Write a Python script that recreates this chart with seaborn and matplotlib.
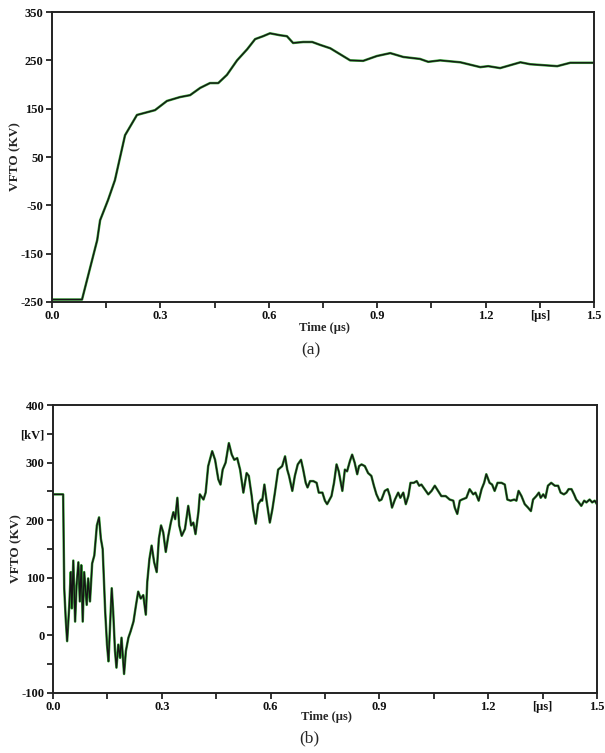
import matplotlib
matplotlib.use("Agg")
import matplotlib.pyplot as plt
import seaborn as sns
import pandas as pd

# ---- panel (a): smooth VFTO waveform (time in us, voltage in kV)
t_a = [0.0, 0.083, 0.125, 0.133, 0.155, 0.174, 0.202, 0.235, 0.285, 0.318,
       0.354, 0.382, 0.41, 0.437, 0.46, 0.484, 0.512, 0.54, 0.562, 0.584,
       0.603, 0.631, 0.65, 0.667, 0.695, 0.72, 0.742, 0.77, 0.825, 0.861,
       0.899, 0.936, 0.972, 1.018, 1.041, 1.074, 1.13, 1.185, 1.207, 1.24,
       1.296, 1.323, 1.398, 1.434, 1.5]
v_a = [-245, -245, -122, -81, -39, 2, 95, 137, 147, 166,
       174, 178, 193, 203, 203, 220, 250, 273, 294, 300,
       306, 302, 300, 286, 288, 288, 282, 275, 250, 249,
       259, 265, 257, 253, 247, 250, 246, 236, 238, 234,
       246, 242, 238, 245, 245]

# ---- panel (b): oscillating VFTO waveform
t_b = [0.0, 0.028, 0.031, 0.035, 0.039, 0.045, 0.049, 0.052, 0.056, 0.061,
       0.065, 0.07, 0.074, 0.078, 0.082, 0.086, 0.093, 0.097, 0.102, 0.108,
       0.114, 0.121, 0.127, 0.132, 0.137, 0.144, 0.149, 0.153, 0.157, 0.162,
       0.166, 0.171, 0.175, 0.18, 0.185, 0.189, 0.196, 0.201, 0.208, 0.214,
       0.222, 0.229, 0.235, 0.242, 0.249, 0.256, 0.26, 0.266, 0.272, 0.279,
       0.286, 0.292, 0.298, 0.304, 0.311, 0.318, 0.325, 0.332, 0.337, 0.343,
       0.348, 0.355, 0.364, 0.373, 0.381, 0.387, 0.393, 0.401, 0.405, 0.415,
       0.421, 0.428, 0.439, 0.447, 0.456, 0.462, 0.468, 0.476, 0.485, 0.493,
       0.5, 0.508, 0.516, 0.525, 0.534, 0.54, 0.548, 0.552, 0.559, 0.566,
       0.574, 0.577, 0.583, 0.589, 0.598, 0.605, 0.612, 0.621, 0.632, 0.64,
       0.646, 0.651, 0.66, 0.667, 0.675, 0.684, 0.69, 0.697, 0.702, 0.709,
       0.718, 0.727, 0.733, 0.743, 0.75, 0.756, 0.768, 0.775, 0.782, 0.788,
       0.793, 0.798, 0.805, 0.811, 0.819, 0.825, 0.832, 0.839, 0.844, 0.851,
       0.86, 0.869, 0.878, 0.885, 0.892, 0.9, 0.906, 0.915, 0.923, 0.929,
       0.935, 0.943, 0.952, 0.958, 0.966, 0.973, 0.98, 0.986, 0.995, 1.003,
       1.01, 1.016, 1.025, 1.035, 1.044, 1.053, 1.062, 1.071, 1.083, 1.094,
       1.104, 1.108, 1.115, 1.122, 1.128, 1.14, 1.149, 1.159, 1.165, 1.174,
       1.182, 1.189, 1.195, 1.204, 1.211, 1.218, 1.226, 1.237, 1.246, 1.253,
       1.262, 1.272, 1.278, 1.284, 1.292, 1.301, 1.31, 1.318, 1.324, 1.333,
       1.34, 1.345, 1.352, 1.358, 1.365, 1.374, 1.384, 1.393, 1.4, 1.409,
       1.416, 1.422, 1.43, 1.437, 1.443, 1.45, 1.457, 1.465, 1.471, 1.48,
       1.487, 1.494, 1.5]
v_b = [245, 245, 82, 30, -10, 53, 110, 47, 130, 24,
       87, 127, 59, 122, 24, 110, 53, 99, 59, 125,
       139, 191, 205, 168, 150, 41, -16, -45, 13, 82,
       41, -27, -56, -16, -39, -4, -67, -27, -4, 7,
       24, 53, 76, 64, 70, 36, 93, 133, 156, 127,
       110, 168, 191, 179, 145, 173, 196, 214, 202, 239,
       191, 173, 185, 225, 191, 196, 176, 214, 245, 236,
       248, 294, 320, 305, 271, 262, 288, 300, 334, 314,
       305, 308, 288, 248, 282, 277, 242, 219, 194, 228,
       236, 234, 262, 234, 196, 219, 248, 288, 294, 311,
       288, 277, 251, 277, 297, 305, 288, 265, 257, 268,
       268, 265, 248, 248, 234, 228, 242, 265, 297, 285,
       268, 251, 288, 285, 303, 314, 300, 280, 294, 297,
       294, 282, 277, 260, 245, 234, 236, 251, 254, 242,
       222, 236, 248, 239, 248, 228, 242, 265, 265, 268,
       260, 262, 254, 245, 251, 260, 251, 242, 242, 236,
       234, 222, 211, 234, 236, 239, 254, 245, 248, 234,
       254, 265, 280, 265, 262, 251, 265, 265, 262, 236,
       234, 236, 234, 251, 242, 228, 222, 216, 236, 242,
       248, 239, 245, 239, 260, 265, 260, 260, 248, 245,
       248, 254, 254, 245, 236, 231, 225, 234, 231, 236,
       231, 234, 228]

xticks = [0.0, 0.3, 0.6, 0.9, 1.2, 1.35, 1.5]
xticklabels = ["0.0", "0.3", "0.6", "0.9", "1.2", "[\u00b5s]", "1.5"]
xminor = [0.15, 0.45, 0.75, 1.05]

yticks_a = [-250, -150, -50, 50, 150, 250, 350]
yticks_b = [-100, -50, 0, 50, 100, 150, 200, 250, 300, 350, 400]
yticklabels_b = ["-100", "", "0", "", "100", "", "200", "", "300", "[kV]", "400"]

sns.set_style("ticks")
plt.rcParams['font.family'] = ['Liberation Serif', 'DejaVu Serif']

fig = plt.figure(figsize=(6.05, 7.53), dpi=100)
ax_a = fig.add_axes([0.086, 0.599, 0.896, 0.385])
ax_b = fig.add_axes([0.0876, 0.0797, 0.899, 0.3823])

df_a = pd.DataFrame({"t": t_a, "v": v_a})
df_b = pd.DataFrame({"t": t_b, "v": v_b})


def draw(ax, df):
    # green halo under a black trace, like the scope export
    sns.lineplot(data=df, x="t", y="v", ax=ax, color="#3aa53a", lw=1.8,
                 estimator=None, sort=False)
    sns.lineplot(data=df, x="t", y="v", ax=ax, color="#151515", lw=1.0,
                 estimator=None, sort=False)


draw(ax_a, df_a)
draw(ax_b, df_b)

for ax in (ax_a, ax_b):
    ax.set_xlim(0, 1.5)
    ax.set_xticks(xticks)
    ax.set_xticklabels(xticklabels, fontweight="bold", fontsize=9)
    ax.set_xticks(xminor, minor=True)
    ax.set_xlabel("")
    ax.set_ylabel("VFTO (KV)", fontweight="bold", fontsize=9.5)
    ax.yaxis.set_label_coords(-0.056, 0.5)
    ax.tick_params(axis="both", which="both", direction="out", length=4,
                   width=1.2, colors="#111111", pad=2)
    for s in ax.spines.values():
        s.set_visible(True)
        s.set_linewidth(1.4)
        s.set_color("#222222")

ax_a.set_ylim(-250, 350)
ax_a.set_yticks(yticks_a)
ax_a.set_yticklabels([str(v) for v in yticks_a], fontweight="bold", fontsize=9)

ax_b.set_ylim(-100, 400)
ax_b.set_yticks(yticks_b)
ax_b.set_yticklabels(yticklabels_b, fontweight="bold", fontsize=9)

fig.text(0.536, 0.564, "Time (\u00b5s)", ha="center", va="center",
         fontweight="bold", fontsize=9)
fig.text(0.514, 0.535, "(a)", ha="center", va="center", fontsize=12.5)
fig.text(0.539, 0.048, "Time (\u00b5s)", ha="center", va="center",
         fontweight="bold", fontsize=9)
fig.text(0.511, 0.020, "(b)", ha="center", va="center", fontsize=12.5)

fig.savefig("out.png", dpi=100)
